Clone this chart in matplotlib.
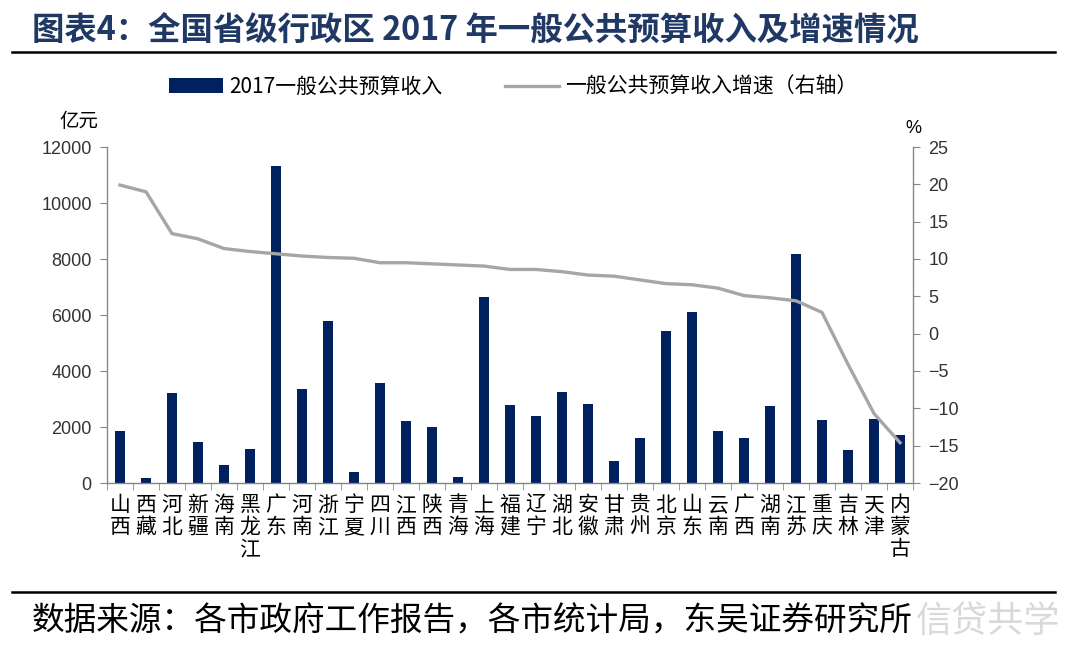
import matplotlib
matplotlib.use("Agg")
import matplotlib.pyplot as plt
from matplotlib.lines import Line2D
import numpy as np

plt.rcParams['font.family'] = ['Noto Sans CJK SC', 'DejaVu Sans']
plt.rcParams['axes.unicode_minus'] = True

# data
provinces = ['山西', '西藏', '河北', '新疆', '海南', '黑龙江', '广东', '河南', '浙江', '宁夏',
             '四川', '江西', '陕西', '青海', '上海', '福建', '辽宁', '湖北', '安徽', '甘肃',
             '贵州', '北京', '山东', '云南', '广西', '湖南', '江苏', '重庆', '吉林', '天津', '内蒙古']
revenue = [1850, 180, 3200, 1450, 650, 1220, 11320, 3360, 5780, 410,
           3560, 2230, 2010, 200, 6640, 2790, 2390, 3240, 2810, 790,
           1610, 5430, 6100, 1870, 1610, 2750, 8170, 2250, 1180, 2280, 1700]
growth = [19.9, 19.0, 13.4, 12.7, 11.4, 11.0, 10.7, 10.4, 10.2, 10.1,
          9.5, 9.5, 9.35, 9.2, 9.05, 8.6, 8.6, 8.3, 7.85, 7.7,
          7.2, 6.7, 6.55, 6.1, 5.1, 4.8, 4.4, 2.85, -4.1, -10.7, -14.6]

bar_color = '#002060'
line_color = '#a6a6a6'
spine_color = '#868686'

fig = plt.figure(figsize=(10.8, 6.5), dpi=100)
ax = fig.add_axes([107 / 1080, 1 - 483 / 650, (913 - 107) / 1080, (483 - 147) / 650])
ax2 = ax.twinx()

x = np.arange(len(provinces))
ax.bar(x, revenue, width=0.38, color=bar_color, zorder=2, label='2017一般公共预算收入')
ax2.plot(x, growth, color=line_color, lw=2.4, zorder=3, label='一般公共预算收入增速（右轴）')

ax.set_xlim(-0.5, len(provinces) - 0.5)
ax.set_ylim(0, 12000)
ax.set_yticks(np.arange(0, 12001, 2000))
ax2.set_ylim(-20, 25)
ax2.set_yticks(np.arange(-20, 26, 5))

ax.set_xticks(x)
ax.set_xticklabels(['\n'.join(p) for p in provinces], va='top', linespacing=1.0)
ax.set_xticks(np.arange(-0.5, len(provinces), 1), minor=True)
ax.tick_params(axis='x', which='major', length=0, pad=8, labelsize=15)
ax.tick_params(axis='x', which='minor', length=5, color=spine_color, direction='out')
ax.tick_params(axis='y', length=5, color=spine_color, labelsize=13, pad=6)
ax2.tick_params(axis='y', length=5, color=spine_color, labelsize=13, pad=6)
for lbl in ax.get_yticklabels() + ax2.get_yticklabels():
    lbl.set_family(['Liberation Sans', 'DejaVu Sans'])
    lbl.set_color('#333333')

for a in (ax, ax2):
    a.spines['top'].set_visible(False)
    for s in ('left', 'right', 'bottom'):
        a.spines[s].set_color(spine_color)
        a.spines[s].set_linewidth(1.0)
ax.spines['right'].set_visible(False)
ax2.spines['left'].set_visible(False)
ax2.spines['bottom'].set_visible(False)

ax.text(-0.035, 1.075, '亿元', transform=ax.transAxes, fontsize=14, ha='center', va='center')
ax2.text(1.0, 1.055, '%', transform=ax.transAxes, fontsize=13, ha='center', va='center',
         family=['Liberation Sans', 'DejaVu Sans'])

h1, l1 = ax.get_legend_handles_labels()
h2, l2 = ax2.get_legend_handles_labels()
fig.legend(h1 + h2, l1 + l2, loc='center', bbox_to_anchor=(0.475, 1 - 87 / 650), ncol=2,
           frameon=False, fontsize=15, handlelength=2.6, handleheight=0.7,
           columnspacing=3.0, handletextpad=0.3)

fig.text(32 / 1080, 1 - 30 / 650, '图表4：全国省级行政区 2017 年一般公共预算收入及增速情况',
         fontsize=23.3, fontweight='bold', color='#1f3864', ha='left', va='center')
fig.add_artist(Line2D([12 / 1080, 1055 / 1080], [1 - 52 / 650] * 2, transform=fig.transFigure,
                      color='black', lw=1.8))
fig.add_artist(Line2D([12 / 1080, 1055 / 1080], [1 - 592 / 650] * 2, transform=fig.transFigure,
                      color='black', lw=1.8))
fig.text(32 / 1080, 1 - 622 / 650, '数据来源：各市政府工作报告，各市统计局，东吴证券研究所',
         fontsize=23.5, color='black', ha='left', va='center')
# faint watermark at bottom right
fig.text(1060 / 1080, 1 - 622 / 650, '信贷共学', fontsize=26, color='#d9d9d9',
         ha='right', va='center')

fig.savefig('out.png', dpi=100)
